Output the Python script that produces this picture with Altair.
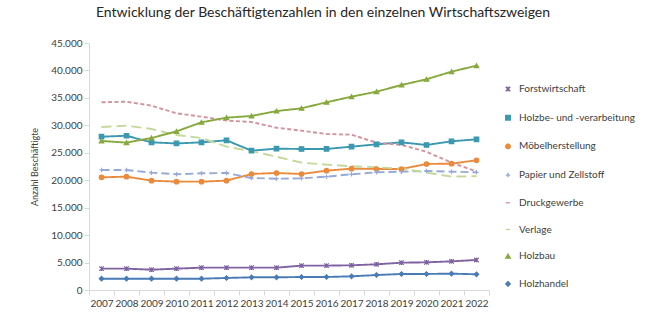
import altair as alt
import pandas as pd

years = list(range(2007, 2023))
series = ["Forstwirtschaft", "Holzbe- und -verarbeitung", "Möbelherstellung",
          "Papier und Zellstoff", "Druckgewerbe", "Verlage", "Holzbau", "Holzhandel"]

forst = [3890, 3890, 3700, 3890, 4070, 4070, 4070, 4070, 4440, 4440, 4500, 4680, 4980, 5040, 5220, 5470]
holzbe = [27930, 28100, 26900, 26700, 26900, 27270, 25380, 25750, 25690, 25700, 26110, 26540, 26900, 26420, 27090, 27450]
moebel = [20530, 20650, 19920, 19740, 19740, 19920, 21140, 21320, 21130, 21740, 22110, 22050, 22050, 22960, 23020, 23630]
papier = [21860, 21860, 21380, 21080, 21260, 21320, 20400, 20280, 20340, 20650, 21080, 21440, 21560, 21680, 21560, 21440]
druck = [34200, 34310, 33580, 32190, 31580, 30850, 30610, 29570, 29030, 28420, 28300, 26840, 26420, 25200, 23200, 21600]
verlage = [29700, 29940, 29330, 28240, 27700, 26110, 25300, 24290, 23200, 22850, 22550, 22350, 22110, 21380, 20650, 20750]
holzbau = [27150, 26850, 27700, 28900, 30550, 31400, 31700, 32600, 33100, 34200, 35220, 36130, 37350, 38390, 39780, 40870]
holzhandel = [2060, 2060, 2060, 2060, 2060, 2190, 2310, 2310, 2370, 2370, 2490, 2730, 2920, 2920, 2980, 2860]

values = [forst, holzbe, moebel, papier, druck, verlage, holzbau, holzhandel]

colors = ["#7F62A2", "#3A98B0", "#EB8A3C", "#97A9D7", "#D3939C", "#C4D89C", "#87A93E", "#4A7BB5"]
dashes = [[1, 0], [1, 0], [1, 0], [8, 4], [4, 2.5], [10, 5], [1, 0], [1, 0]]
asterisk = "M-1,-1L1,1M-1,1L1,-1M0,-1L0,1"
plus = "M-1,0L1,0M0,-1L0,1"
shapes = [asterisk, "square", "circle", plus, "stroke", "stroke", "triangle-up", "diamond"]
no_marker = ["Druckgewerbe", "Verlage"]

rows = []
for s, vals in zip(series, values):
    for y, v in zip(years, vals):
        rows.append({"Jahr": str(y), "Serie": s, "Wert": v})
df = pd.DataFrame(rows)

FONT = "Lato"
TXT = "#404040"

x_enc = alt.X("Jahr:O", bandPosition=0.5,
              scale=alt.Scale(type="band", paddingInner=0, paddingOuter=0),
              axis=alt.Axis(title=None, tickBand="extent", labelAngle=0, labelFontSize=10,
                            labelColor=TXT, domainColor="#D9D9D9", tickColor="#D9D9D9",
                            tickSize=5, labelPadding=3))
y_enc = alt.Y("Wert:Q", scale=alt.Scale(domain=[0, 45000], nice=False),
              axis=alt.Axis(title="Anzahl Beschäftigte", values=list(range(0, 45001, 5000)),
                            labelExpr="replace(format(datum.value, ','), ',', '.')",
                            grid=False, labelFontSize=10, labelColor=TXT,
                            domainColor="#D9D9D9", tickColor="#D9D9D9", tickSize=5,
                            titleFontSize=9, titleFontWeight="normal", titleColor=TXT,
                            titlePadding=11))

color_scale = alt.Scale(domain=series, range=colors)

lines = alt.Chart(df).mark_line(strokeWidth=1.9).encode(
    x=x_enc, y=y_enc,
    color=alt.Color("Serie:N", scale=color_scale, sort=series,
                    legend=alt.Legend(title=None, orient="none", legendX=414, legendY=41,
                                      labelFontSize=10, labelColor=TXT, labelFont=FONT,
                                      rowPadding=16.7, symbolSize=20, symbolStrokeWidth=1.4,
                                      labelOffset=6, labelLimit=200)),
    strokeDash=alt.StrokeDash("Serie:N", scale=alt.Scale(domain=series, range=dashes), legend=None),
    detail="Serie:N",
)

points = alt.Chart(df).transform_filter(
    alt.FieldOneOfPredicate(field="Serie", oneOf=[s for s in series if s not in no_marker])
).mark_point(filled=False, size=20, strokeWidth=1.2, opacity=1).encode(
    x=x_enc, y=y_enc,
    color=alt.Color("Serie:N", scale=color_scale, sort=series),
    fill=alt.Fill("Serie:N", scale=alt.Scale(domain=series, range=colors), sort=series),
    shape=alt.Shape("Serie:N", scale=alt.Scale(domain=series, range=shapes), sort=series),
)

chart = alt.layer(lines, points).properties(
    width=400, height=247,
    padding={"left": 89, "top": 43, "right": 157, "bottom": 33},
    autosize=alt.AutoSizeParams(type="none"),
    title=alt.Title("Entwicklung der Beschäftigtenzahlen in den einzelnen Wirtschaftszweigen",
                    fontSize=14, fontWeight="normal", color="#262626", font=FONT,
                    anchor="middle", dx=34, offset=18),
).configure(font=FONT).configure_view(stroke=None)

chart.save("out.html", embed_options={"renderer": "svg", "actions": False})
